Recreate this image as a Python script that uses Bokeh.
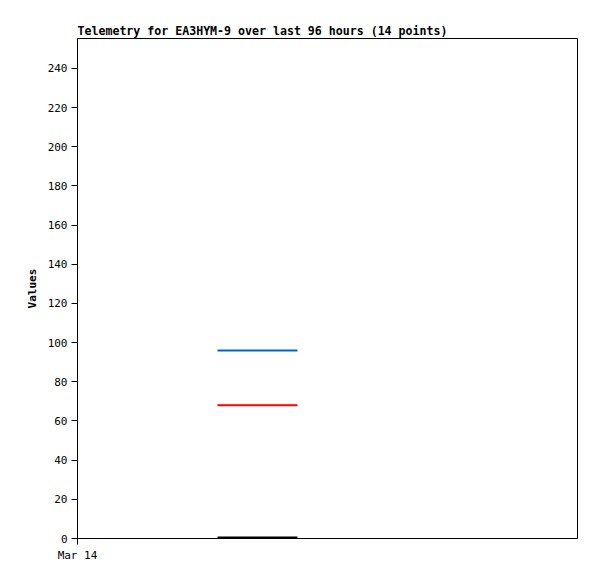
from datetime import datetime, timedelta
from bokeh.plotting import figure
from bokeh.models import FixedTicker, Range1d, CustomJSTickFormatter
from bokeh.embed import file_html
from bokeh.resources import INLINE

start = datetime(2024, 3, 14, 0, 0)
end = start + timedelta(hours=25)
# 14 telemetry points
times = [start + timedelta(hours=7, minutes=m) for m in
         [0, 18, 37, 55, 74, 92, 111, 129, 148, 166, 185, 203, 222, 240]]
series_blue = [96] * 14
series_red = [68] * 14
series_black = [0.5] * 14
y_ticks = [0, 20, 40, 60, 80, 100, 120, 140, 160, 180, 200, 220, 240]
x_tick_labels = ["Mar 14"]

FONT = "DejaVu Sans Mono"

p = figure(width=597, height=571, output_backend="svg", toolbar_location=None,
           x_axis_type="datetime",
           title="Telemetry for EA3HYM-9 over last 96 hours (14 points)",
           min_border_left=77, min_border_right=20, min_border_top=38, min_border_bottom=33)
p.x_range = Range1d(start, end)
p.y_range = Range1d(0, 255.3)

p.line(times, series_blue, color="#0066CC", line_width=2)
p.line(times, series_red, color="#FF0000", line_width=2)
p.line(times, series_black, color="#000000", line_width=2)

p.title.text_font = FONT
p.title.text_font_size = "11.6px"
p.title.text_font_style = "bold"
p.title.text_color = "black"
p.title.align = "left"
p.title.offset = 0
p.title.standoff = 2

p.xgrid.visible = False
p.ygrid.visible = False
p.outline_line_color = "black"
p.outline_line_alpha = 1

p.yaxis.ticker = FixedTicker(ticks=y_ticks)
p.yaxis.axis_label = "Values"
p.yaxis.axis_label_text_font = FONT
p.yaxis.axis_label_text_font_size = "11px"
p.yaxis.axis_label_text_font_style = "bold"
p.yaxis.axis_label_text_color = "black"
p.yaxis.axis_label_standoff = 6
p.xaxis.ticker = FixedTicker(ticks=[start.timestamp() * 1000])
p.xaxis.formatter = CustomJSTickFormatter(args=dict(labels=x_tick_labels),
                                          code="return labels[0];")

for ax in (p.xaxis[0], p.yaxis[0]):
    ax.major_label_text_font = FONT
    ax.major_label_text_font_size = "11px"
    ax.major_label_text_color = "black"
    ax.axis_line_color = "black"
    ax.major_tick_line_color = "black"
    ax.major_tick_in = 0
    ax.major_tick_out = 6
    ax.minor_tick_line_color = None
    ax.major_label_standoff = 4

open("out.html", "w").write(file_html(p, INLINE))
